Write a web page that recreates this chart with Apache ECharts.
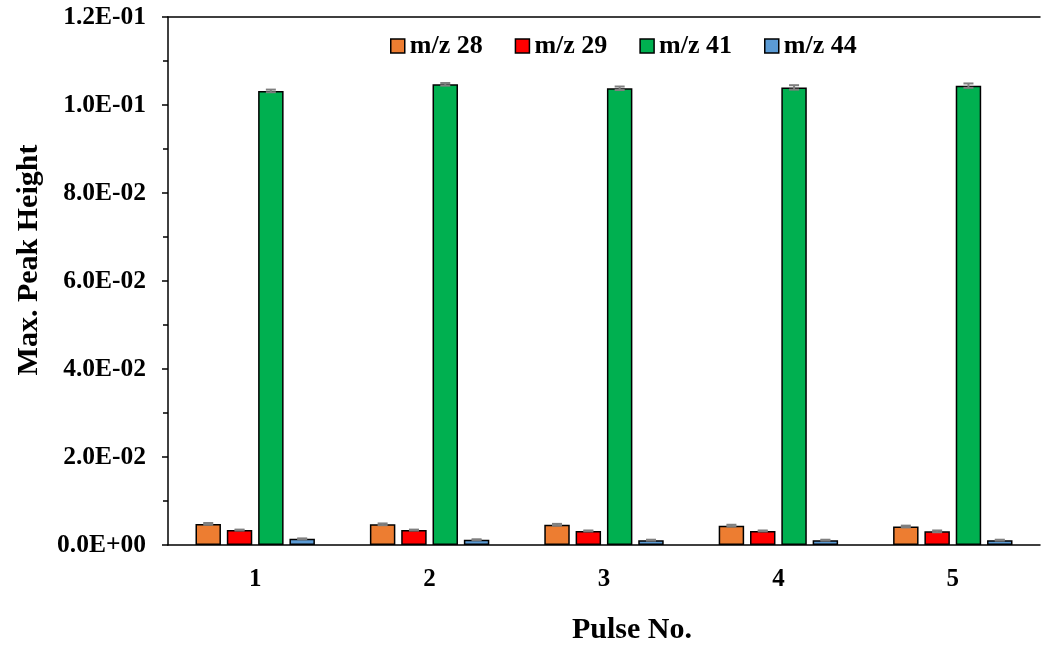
<!DOCTYPE html>
<html>
<head>
<meta charset="utf-8">
<script src="https://cdn.jsdelivr.net/npm/echarts@6/dist/echarts.min.js"></script>
<style>html,body{margin:0;padding:0;background:#fff}#c{width:1043px;height:650px}</style>
</head>
<body>
<div id="c"></div>
<script>
const categories = ['1', '2', '3', '4', '5'];
const seriesNames = ['m/z 28', 'm/z 29', 'm/z 41', 'm/z 44'];
const mz28 = [0.0048, 0.0047, 0.0046, 0.0044, 0.0042];
const mz29 = [0.0034, 0.0034, 0.0032, 0.0032, 0.0031];
const mz41 = [0.1032, 0.1047, 0.1038, 0.1040, 0.1044];
const mz44 = [0.0014, 0.0012, 0.0011, 0.0011, 0.0011];
const err28 = [0.0002, 0.0002, 0.0002, 0.0002, 0.0002];
const err29 = [0.0001, 0.0001, 0.0001, 0.0001, 0.0002];
const err41 = [0.0003, 0.0003, 0.0004, 0.0005, 0.0005];
const err44 = [0.0001, 0.0001, 0.0001, 0.0001, 0.0001];
const yTicks = { min: 0, max: 0.12, interval: 0.02 };

const colors = ['#ED7D31', '#FF0000', '#00B050', '#5B9BD5'];
const values = [mz28, mz29, mz41, mz44];
const errors = [err28, err29, err41, err44];
const FONT = '"Liberation Serif", "Times New Roman", serif';
const BAR_W = 0.146, BAR_GAP = 0.23;

function fmt(v) {
  if (Math.abs(v) < 1e-12) return '0.0E+00';
  const s = v.toExponential(1);
  const parts = s.split('e');
  const e = parseInt(parts[1], 10);
  const sign = e < 0 ? '-' : '+';
  const ea = Math.abs(e);
  return parts[0] + 'E' + sign + (ea < 10 ? '0' + ea : '' + ea);
}

const series = [];
seriesNames.forEach((name, i) => {
  series.push({
    name: name,
    type: 'bar',
    data: values[i],
    barWidth: (BAR_W * 100) + '%',
    barGap: (BAR_GAP * 100) + '%',
    itemStyle: { color: colors[i], borderColor: '#000', borderWidth: 1.5 },
    z: 2
  });
});
seriesNames.forEach((name, i) => {
  series.push({
    type: 'custom',
    name: name + ' err',
    z: 5,
    silent: true,
    data: values[i].map((v, k) => [k, v - errors[i][k], v + errors[i][k]]),
    renderItem: function (params, api) {
      const band = api.size([1, 0])[0];
      const off = band * BAR_W * (1 + BAR_GAP) * (i - 1.5);
      const lo = api.coord([api.value(0), api.value(1)]);
      const hi = api.coord([api.value(0), api.value(2)]);
      const x = lo[0] + off;
      const cw = 5;
      const st = { stroke: '#7F7F7F', lineWidth: 2 };
      return {
        type: 'group',
        children: [
          { type: 'line', shape: { x1: x, y1: lo[1], x2: x, y2: hi[1] }, style: st },
          { type: 'line', shape: { x1: x - cw, y1: lo[1], x2: x + cw, y2: lo[1] }, style: st },
          { type: 'line', shape: { x1: x - cw, y1: hi[1], x2: x + cw, y2: hi[1] }, style: st }
        ]
      };
    }
  });
});

const chart = echarts.init(document.getElementById('c'));
chart.setOption({
  animation: false,
  textStyle: { fontFamily: FONT },
  grid: { left: 168, right: 3, top: 17, bottom: 104, containLabel: false },
  legend: {
    data: seriesNames.map((n, i) => ({ name: n, itemStyle: { color: colors[i], borderColor: '#000', borderWidth: 1.5 } })),
    left: 385, top: 28,
    icon: 'rect',
    itemWidth: 14, itemHeight: 14, itemGap: 32,
    textStyle: { fontFamily: FONT, fontWeight: 'bold', fontSize: 26, color: '#000' }
  },
  xAxis: [{
    type: 'category',
    data: categories,
    name: 'Pulse No.',
    nameLocation: 'middle',
    nameGap: 70,
    nameTextStyle: { fontFamily: FONT, fontWeight: 'bold', fontSize: 30, color: '#000', padding: [0, 0, 0, 56] },
    axisLine: { show: true, lineStyle: { color: '#000', width: 1.5 } },
    axisTick: { show: false },
    axisLabel: { margin: 22, fontFamily: FONT, fontWeight: 'bold', fontSize: 25, color: '#000' },
    splitLine: { show: false }
  }, {
    type: 'category',
    data: categories,
    position: 'top',
    axisLine: { show: true, onZero: false, lineStyle: { color: '#000', width: 1.5 } },
    axisTick: { show: false },
    axisLabel: { show: false },
    splitLine: { show: false }
  }],
  yAxis: {
    type: 'value',
    min: yTicks.min, max: yTicks.max, interval: yTicks.interval,
    name: 'Max. Peak Height',
    nameLocation: 'middle',
    nameGap: 124,
    nameRotate: 90,
    nameTextStyle: { fontFamily: FONT, fontWeight: 'bold', fontSize: 30, color: '#000', padding: [0, 0, 0, 42] },
    axisLine: { show: true, lineStyle: { color: '#000', width: 1.5 } },
    axisTick: { show: true, length: 6, lineStyle: { color: '#000', width: 1.5 } },
    minorTick: { show: true, splitNumber: 2, length: 5, lineStyle: { color: '#000', width: 1.5 } },
    axisLabel: { margin: 22, fontFamily: FONT, fontWeight: 'bold', fontSize: 25.5, color: '#000', formatter: fmt },
    splitLine: { show: false },
    minorSplitLine: { show: false }
  },
  series: series
});
</script>
</body>
</html>
